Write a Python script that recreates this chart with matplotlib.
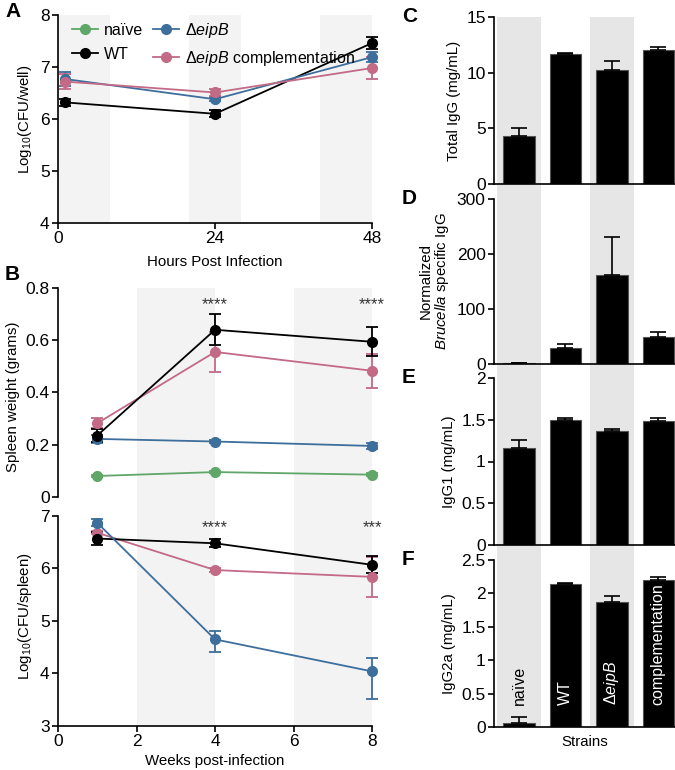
import numpy as np
import matplotlib
matplotlib.use("Agg")
import matplotlib.pyplot as plt
from matplotlib.ticker import FuncFormatter
from matplotlib.lines import Line2D

plt.rcParams['font.family'] = ['Liberation Sans', 'DejaVu Sans']
plt.rcParams['mathtext.fontset'] = 'custom'
plt.rcParams['mathtext.rm'] = 'Liberation Sans'
plt.rcParams['mathtext.it'] = 'Liberation Sans:italic'

# colours
GREEN = '#5fa668'
BLUE = '#3d6e9c'
PINK = '#c26a86'
BAND_L = '#f3f3f3'
BAND_R = '#e6e6e6'

# ---- panel A: CFU/well in macrophages ----
hours = [1, 24, 48]
a_wt = [6.32, 6.10, 7.46]
a_wt_err = [0.07, 0.07, 0.12]
a_ko = [6.77, 6.38, 7.19]
a_ko_err = [0.14, 0.04, 0.10]
a_comp = [6.72, 6.51, 6.98]
a_comp_err = [0.15, 0.07, 0.22]

# ---- panel B: spleen weight and CFU/spleen ----
weeks = [1, 4, 8]
sw_naive = [0.080, 0.095, 0.085]
sw_naive_err = [0.005, 0.005, 0.005]
sw_wt = [0.235, 0.640, 0.594]
sw_wt_err = [0.025, 0.060, 0.055]
sw_ko = [0.222, 0.212, 0.195]
sw_ko_err = [0.015, 0.006, 0.012]
sw_comp = [0.282, 0.555, 0.483]
sw_comp_err = [0.020, 0.075, 0.065]

cfu_wt = [6.57, 6.48, 6.07]
cfu_wt_err = [0.13, 0.08, 0.16]
cfu_ko = [6.87, 4.65, 4.04]
cfu_ko_lo = [0.06, 0.24, 0.53]
cfu_ko_hi = [0.08, 0.16, 0.25]
cfu_comp = [6.68, 5.97, 5.84]
cfu_comp_err = [0.03, 0.03, 0.38]

# ---- panels C-F: antibody titres ----
strains = ['naïve', 'WT', 'Δ$\\it{eipB}$', 'complementation']
total_igg = [4.3, 11.68, 10.24, 12.04]
total_igg_err = [0.75, 0.08, 0.82, 0.28]
brucella_igg = [1.0, 29.0, 162.0, 49.0]
brucella_igg_err = [1.0, 7.0, 69.0, 9.0]
igg1 = [1.16, 1.50, 1.37, 1.49]
igg1_err = [0.10, 0.02, 0.02, 0.03]
igg2a = [0.06, 2.14, 1.87, 2.20]
igg2a_err = [0.09, 0.01, 0.09, 0.04]

W, H = 675, 770
fig = plt.figure(figsize=(W / 100, H / 100), dpi=100)


def box(l, t, r, b):
    return [l / W, 1 - b / H, (r - l) / W, (b - t) / H]


fmt = FuncFormatter(lambda v, p: '%g' % v)
TICK = 12.5
LAB = 10.8
STAR = 12


def style(ax):
    for s in ['top', 'right']:
        ax.spines[s].set_visible(False)
    for s in ['left', 'bottom']:
        ax.spines[s].set_linewidth(1.2)
    ax.tick_params(direction='out', length=4, width=1.2, labelsize=TICK, pad=2)
    ax.yaxis.set_major_formatter(fmt)


def series(ax, x, y, err, color):
    ax.errorbar(x, y, yerr=err, color=color, marker='o', ms=7, lw=1.3,
                elinewidth=1.3, capsize=4, capthick=1.3, clip_on=False, zorder=3)


# ---------------- A ----------------
axA = fig.add_axes(box(58, 15, 372, 223))
style(axA)
for lo, hi in [(0, 8), (20, 28), (40, 48)]:
    axA.axvspan(lo, hi, color=BAND_L, lw=0, zorder=0)
series(axA, hours, a_wt, a_wt_err, 'black')
series(axA, hours, a_ko, a_ko_err, BLUE)
series(axA, hours, a_comp, a_comp_err, PINK)
axA.set_xlim(0, 48)
axA.set_ylim(4, 8)
axA.set_xticks([0, 24, 48])
axA.set_yticks([4, 5, 6, 7, 8])
axA.set_xlabel('Hours Post Infection', fontsize=LAB, labelpad=6)
axA.set_ylabel('Log$_{10}$(CFU/well)', fontsize=LAB)

handles = [Line2D([], [], color=c, marker='o', ms=7, lw=1.3)
           for c in [GREEN, 'black', BLUE, PINK]]
labels = ['naïve', 'WT', 'Δ$\\it{eipB}$', 'Δ$\\it{eipB}$ complementation']
axA.legend(handles, labels, ncol=2, frameon=False, loc='upper left',
           bbox_to_anchor=(0.0, 1.04), fontsize=11.5, handlelength=1.6,
           handletextpad=0.4, columnspacing=0.6, labelspacing=0.55)

# ---------------- B top ----------------
axB1 = fig.add_axes(box(58, 288, 372, 506))
style(axB1)
axB1.spines['bottom'].set_visible(False)
axB1.spines['left'].set_bounds(0, 0.8)
for lo, hi in [(2, 4), (6, 8)]:
    axB1.axvspan(lo, hi, color=BAND_L, lw=0, zorder=0)
series(axB1, weeks, sw_naive, sw_naive_err, GREEN)
series(axB1, weeks, sw_ko, sw_ko_err, BLUE)
series(axB1, weeks, sw_comp, sw_comp_err, PINK)
series(axB1, weeks, sw_wt, sw_wt_err, 'black')
axB1.set_xlim(0, 8)
axB1.set_ylim(-0.035, 0.8)
axB1.set_yticks([0, 0.2, 0.4, 0.6, 0.8])
axB1.set_xticks([])
axB1.set_ylabel('Spleen weight (grams)', fontsize=LAB)
for wk in [4, 8]:
    axB1.text(wk, 0.735, '****', ha='center', va='center', fontsize=STAR, color='#333333')

# ---------------- B bottom ----------------
axB2 = fig.add_axes(box(58, 506, 372, 726))
style(axB2)
axB2.spines['left'].set_bounds(3, 7)
for lo, hi in [(2, 4), (6, 8)]:
    axB2.axvspan(lo, hi, color=BAND_L, lw=0, zorder=0)
series(axB2, weeks, cfu_comp, cfu_comp_err, PINK)
series(axB2, weeks, cfu_wt, cfu_wt_err, 'black')
series(axB2, weeks, cfu_ko, [cfu_ko_lo, cfu_ko_hi], BLUE)
axB2.set_xlim(0, 8)
axB2.set_ylim(3, 7.19)
axB2.set_xticks([0, 2, 4, 6, 8])
axB2.set_yticks([3, 4, 5, 6, 7])
axB2.set_xlabel('Weeks post-infection', fontsize=LAB, labelpad=3)
axB2.set_ylabel('Log$_{10}$(CFU/spleen)', fontsize=LAB)
axB2.text(4, 6.77, '****', ha='center', va='center', fontsize=STAR, color='#333333')
axB2.text(8, 6.77, '***', ha='center', va='center', fontsize=STAR, color='#333333')

# ---------------- C-F ----------------
XL = (-0.54, 3.36)
bg = fig.add_axes(box(494, 17, 675, 727), zorder=0)
bg.set_xlim(*XL)
for c in [0, 2]:
    bg.axvspan(c - 0.47, c + 0.47, color=BAND_R, lw=0)
bg.axis('off')

xpos = np.arange(len(strains))
right = [
    (17, 184, total_igg, total_igg_err, [0, 5, 10, 15], 'Total IgG (mg/mL)', 'C'),
    (199, 364, brucella_igg, brucella_igg_err, [0, 100, 200, 300],
     'Normalized\n$\\it{Brucella}$ specific IgG', 'D'),
    (378, 545, igg1, igg1_err, [0, 0.5, 1, 1.5, 2], 'IgG1 (mg/mL)', 'E'),
    (560, 727, igg2a, igg2a_err, [0, 0.5, 1, 1.5, 2, 2.5], 'IgG2a (mg/mL)', 'F'),
]
for top, bot, vals, errs, ticks, lab, letter in right:
    ax = fig.add_axes(box(494, top, 675, bot), zorder=1)
    ax.patch.set_alpha(0)
    style(ax)
    ax.bar(xpos, vals, width=0.68, color='black', edgecolor='#555555', lw=0.8,
           yerr=[np.zeros(len(errs)), errs], capsize=6,
           error_kw=dict(elinewidth=1.2, capthick=1.2, ecolor='black'))
    ax.set_xlim(*XL)
    ax.set_ylim(0, ticks[-1])
    ax.set_yticks(ticks)
    ax.set_xticks([])
    ax.set_ylabel(lab, fontsize=LAB, linespacing=1.0)
    fig.text(402 / W, 1 - (top - 10) / H, letter, fontsize=15, fontweight='bold',
             ha='left', va='top')
    if letter == 'F':
        ax.set_xlabel('Strains', fontsize=LAB, labelpad=6)
        for i, s in enumerate(strains):
            ax.text(i, 0.33, s, rotation=90, ha='center', va='bottom', fontsize=11.5,
                    color='black' if i == 0 else 'white')

fig.text(5 / W, 1 - 2 / H, 'A', fontsize=15, fontweight='bold', ha='left', va='top')
fig.text(5 / W, 1 - 265 / H, 'B', fontsize=15, fontweight='bold', ha='left', va='top')

fig.savefig('out.png', dpi=100)
